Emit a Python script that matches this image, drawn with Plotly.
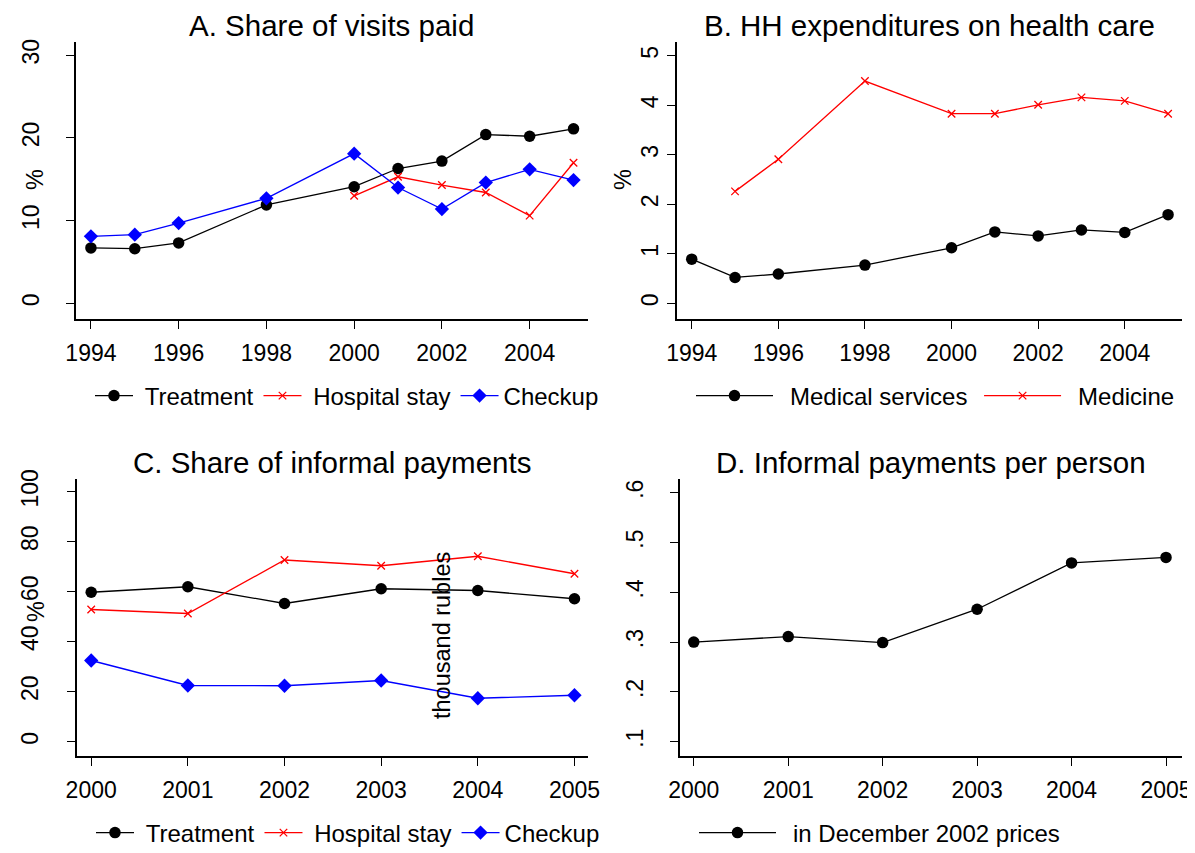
import plotly.graph_objects as go

# ---------------- data ----------------
years_ab = [1994, 1995, 1996, 1998, 2000, 2001, 2002, 2003, 2004, 2005]
years_hosp_a = [2000, 2001, 2002, 2003, 2004, 2005]
treat_a = [6.7, 6.6, 7.3, 11.9, 14.1, 16.3, 17.2, 20.4, 20.2, 21.1]
hosp_a = [13.0, 15.3, 14.3, 13.4, 10.6, 17.0]
check_a = [8.1, 8.3, 9.7, 12.7, 18.1, 14.0, 11.4, 14.6, 16.2, 14.9]

years_medicine = [1995, 1996, 1998, 2000, 2001, 2002, 2003, 2004, 2005]
med_services_b = [0.89, 0.52, 0.59, 0.77, 1.12, 1.44, 1.36, 1.48, 1.43, 1.79]
medicine_b = [2.26, 2.91, 4.49, 3.83, 3.83, 4.01, 4.16, 4.09, 3.83]

years_cd = [2000, 2001, 2002, 2003, 2004, 2005]
treat_c = [59.8, 62.0, 55.3, 61.2, 60.5, 57.2]
hosp_c = [52.9, 51.3, 72.7, 70.4, 74.2, 67.2]
check_c = [32.5, 22.5, 22.4, 24.5, 17.4, 18.6]
informal_d = [0.300, 0.311, 0.299, 0.366, 0.459, 0.470]

ticks_ab_x = [1994, 1996, 1998, 2000, 2002, 2004]
ticks_cd_x = [2000, 2001, 2002, 2003, 2004, 2005]
ticks_a_y = [0, 10, 20, 30]
ticks_b_y = [0, 1, 2, 3, 4, 5]
ticks_c_y = [0, 20, 40, 60, 80, 100]
ticks_d_y = [0.1, 0.2, 0.3, 0.4, 0.5, 0.6]
ticktext_d_y = [".1", ".2", ".3", ".4", ".5", ".6"]

titles = ["A. Share of visits paid", "B. HH expenditures on health care",
          "C. Share of informal payments", "D. Informal payments per person"]

# ---------------- styling ----------------
W, H = 1195, 853
OX, OY = 8, 8   # the page body margin offsets the figure inside the window
FONT = "Liberation Sans, Arial, Helvetica, sans-serif"
BLACK, RED, BLUE = "#000000", "#FF0000", "#0000FF"
SP = "\u2002"   # wide gap between legend key and label
NB = "\u00a0"   # narrow gap


def fx(p):
    return (p - OX) / W


def fy(p):
    return 1 - (p - OY) / H


circle = dict(symbol="circle", size=11.5, color=BLACK)
cross = dict(symbol="x-thin", size=7.5, color=RED, line=dict(color=RED, width=1.3))
diamond = dict(symbol="diamond", size=11, color=BLUE)
LW = 1.3

fig = go.Figure()

# Panel A
fig.add_trace(go.Scatter(x=years_ab, y=treat_a, name=NB + "Treatment", mode="lines+markers",
                         line=dict(color=BLACK, width=LW), marker=circle,
                         xaxis="x", yaxis="y", legend="legend"))
fig.add_trace(go.Scatter(x=years_hosp_a, y=hosp_a, name=NB + "Hospital stay", mode="lines+markers",
                         line=dict(color=RED, width=LW), marker=cross,
                         xaxis="x", yaxis="y", legend="legend"))
fig.add_trace(go.Scatter(x=years_ab, y=check_a, name="Checkup", mode="lines+markers",
                         line=dict(color=BLUE, width=LW), marker=diamond,
                         xaxis="x", yaxis="y", legend="legend"))
# Panel B
fig.add_trace(go.Scatter(x=years_ab, y=med_services_b, name=SP + "Medical services" + NB,
                         mode="lines+markers",
                         line=dict(color=BLACK, width=LW), marker=circle,
                         xaxis="x2", yaxis="y2", legend="legend2"))
fig.add_trace(go.Scatter(x=years_medicine, y=medicine_b, name=SP + "Medicine", mode="lines+markers",
                         line=dict(color=RED, width=LW), marker=cross,
                         xaxis="x2", yaxis="y2", legend="legend2"))
# Panel C
fig.add_trace(go.Scatter(x=years_cd, y=treat_c, name=NB + "Treatment", mode="lines+markers",
                         line=dict(color=BLACK, width=LW), marker=circle,
                         xaxis="x3", yaxis="y3", legend="legend3"))
fig.add_trace(go.Scatter(x=years_cd, y=hosp_c, name=NB + "Hospital stay", mode="lines+markers",
                         line=dict(color=RED, width=LW), marker=cross,
                         xaxis="x3", yaxis="y3", legend="legend3"))
fig.add_trace(go.Scatter(x=years_cd, y=check_c, name="Checkup", mode="lines+markers",
                         line=dict(color=BLUE, width=LW), marker=diamond,
                         xaxis="x3", yaxis="y3", legend="legend3"))
# Panel D
fig.add_trace(go.Scatter(x=years_cd, y=informal_d, name=SP + "in December 2002 prices",
                         mode="lines+markers",
                         line=dict(color=BLACK, width=LW), marker=circle,
                         xaxis="x4", yaxis="y4", legend="legend4"))

TICKFONT = dict(family=FONT, size=23, color=BLACK)
axis_common = dict(showline=True, linecolor=BLACK, linewidth=1.5, ticks="outside",
                   ticklen=8, tickwidth=1.3, tickcolor=BLACK, showgrid=False,
                   zeroline=False, tickfont=TICKFONT, automargin=False,
                   fixedrange=True)

top_dom = [fy(319), fy(42)]
bot_dom = [fy(756), fy(479)]

fig.update_layout(
    xaxis=dict(axis_common, domain=[fx(76), fx(588)], range=[1993.66, 2005.33],
               tickvals=ticks_ab_x, anchor="y", ticklabelstandoff=5),
    yaxis=dict(axis_common, domain=top_dom, range=[-1.9, 31.6], tickvals=ticks_a_y,
               tickangle=-90, anchor="x", ticklabelstandoff=18),
    xaxis2=dict(axis_common, domain=[fx(677), fx(1181.5)], range=[1993.66, 2005.31],
                tickvals=ticks_ab_x, anchor="y2", ticklabelstandoff=5),
    yaxis2=dict(axis_common, domain=top_dom, range=[-0.32, 5.28], tickvals=ticks_b_y,
                tickangle=-90, anchor="x2", ticklabelstandoff=0),
    xaxis3=dict(axis_common, domain=[fx(76.7), fx(588)], range=[1999.85, 2005.14],
                tickvals=ticks_cd_x, anchor="y3", ticklabelstandoff=5),
    yaxis3=dict(axis_common, domain=bot_dom, range=[-5.7, 105.1], tickvals=ticks_c_y,
                tickangle=-90, anchor="x3", ticklabelstandoff=20),
    xaxis4=dict(axis_common, domain=[fx(679.6), fx(1181.5)], range=[1999.85, 2005.164],
                tickvals=ticks_cd_x, anchor="y4", ticklabelstandoff=5),
    yaxis4=dict(axis_common, domain=bot_dom, range=[0.0713, 0.6275], tickvals=ticks_d_y,
                ticktext=ticktext_d_y, tickangle=-90, anchor="x4", ticklabelstandoff=18),
    width=W, height=H, margin=dict(l=0, r=0, t=0, b=0, autoexpand=False),
    paper_bgcolor="white", plot_bgcolor="white",
    font=dict(family=FONT, size=23, color=BLACK),
    showlegend=True,
)

leg_common = dict(orientation="h", xanchor="left", yanchor="middle",
                  font=dict(family=FONT, size=24, color=BLACK),
                  bgcolor="rgba(0,0,0,0)", borderwidth=0, itemclick=False,
                  itemdoubleclick=False)
fig.update_layout(
    legend=dict(leg_common, x=fx(90), y=fy(396), itemwidth=38),
    legend2=dict(leg_common, x=fx(691), y=fy(396), itemwidth=77),
    legend3=dict(leg_common, x=fx(91), y=fy(833), itemwidth=38),
    legend4=dict(leg_common, x=fx(694), y=fy(833), itemwidth=77),
)

annotations = []
# top-row titles sit at the very top of the figure; bottom-row titles centred
title_specs = [((76 + 588) / 2, OY, "top"), ((677 + 1181.5) / 2, OY, "top"),
               ((76 + 588) / 2, 462, "middle"), ((679.6 + 1181.5) / 2, 462, "middle")]
for t, (x, y, ya) in zip(titles, title_specs):
    annotations.append(dict(text=t, x=fx(x), y=fy(y), xref="paper", yref="paper",
                            xanchor="center", yanchor=ya, showarrow=False, borderpad=0,
                            font=dict(family=FONT, size=29.5, color=BLACK)))
ytitles = [("%", 35, 180), ("%", 623, 180), ("%", 36, 612), ("thousand rubles", 442, 636)]
for t, x, y in ytitles:
    annotations.append(dict(text=t, x=fx(x), y=fy(y), xref="paper", yref="paper",
                            xanchor="center", yanchor="middle", showarrow=False,
                            textangle=-90, font=dict(family=FONT, size=23.5, color=BLACK)))
fig.update_layout(annotations=annotations)

fig.write_html("out.html", include_plotlyjs=True)
